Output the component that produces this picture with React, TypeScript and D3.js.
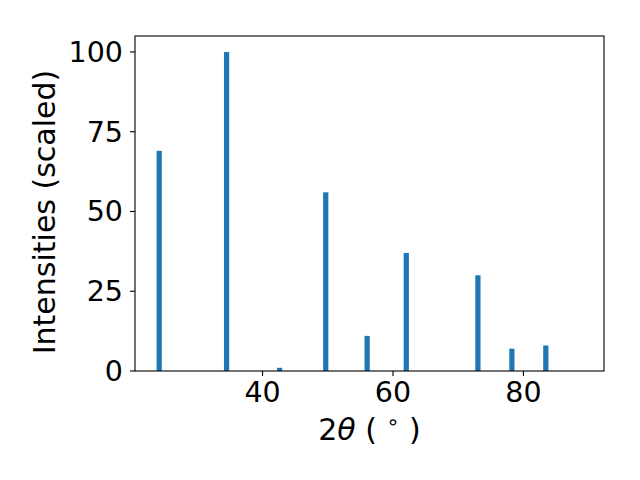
import React from "react";
import * as d3 from "d3";

const positions = [24.16, 34.49, 42.62, 49.69, 56.04, 62.04, 73.02, 78.23, 83.43];
const intensities = [69, 100, 1, 56, 11, 37, 30, 7, 8];
const xTicks = [40, 60, 80];
const yTicks = [0, 25, 50, 75, 100];
const barWidth = 0.8;

const W = 640;
const H = 480;
const M = { left: 135, right: 604, top: 36, bottom: 371 };
const FONT = "DejaVu Sans, sans-serif";
const TICK_FS = 28.5;
const LABEL_FS = 30;

export default function App() {
  const x = d3.scaleLinear().domain([20.45, 92.35]).range([M.left, M.right]);
  const y = d3.scaleLinear().domain([0, 105]).range([M.bottom, M.top]);
  return (
    <svg width={W} height={H} style={{ position: "absolute", left: 0, top: 0, background: "#fff" }}>
      <rect x={0} y={0} width={W} height={H} fill="#fff" />
      {positions.map((p, i) => (
        <rect
          key={i}
          x={x(p - barWidth / 2)}
          y={y(intensities[i])}
          width={x(p + barWidth / 2) - x(p - barWidth / 2)}
          height={y(0) - y(intensities[i])}
          fill="#1f77b4"
        />
      ))}
      <rect
        x={M.left}
        y={M.top}
        width={M.right - M.left}
        height={M.bottom - M.top}
        fill="none"
        stroke="#000"
        strokeWidth={1.1}
      />
      {xTicks.map((t) => (
        <g key={t}>
          <line x1={x(t)} x2={x(t)} y1={M.bottom} y2={M.bottom + 5} stroke="#000" strokeWidth={1.1} />
          <text x={x(t)} y={M.bottom + 31} textAnchor="middle" fontFamily={FONT} fontSize={TICK_FS} fill="#000">
            {t}
          </text>
        </g>
      ))}
      {yTicks.map((t) => (
        <g key={t}>
          <line x1={M.left - 5} x2={M.left} y1={y(t)} y2={y(t)} stroke="#000" strokeWidth={1.1} />
          <text x={M.left - 12} y={y(t) + 10} textAnchor="end" fontFamily={FONT} fontSize={TICK_FS} fill="#000">
            {t}
          </text>
        </g>
      ))}
      <text x={(M.left + M.right) / 2} y={440} textAnchor="middle" fontFamily={FONT} fontSize={LABEL_FS} fill="#000">
        <tspan>2</tspan>
        <tspan fontStyle="italic">θ</tspan>
        <tspan> ( </tspan>
        <tspan fontSize={LABEL_FS * 0.7} dy={-11}>∘</tspan>
        <tspan dy={11}> )</tspan>
      </text>
      <text
        transform={`translate(55,212) rotate(-90)`}
        textAnchor="middle"
        fontFamily={FONT}
        fontSize={LABEL_FS}
        fill="#000"
      >
        Intensities (scaled)
      </text>
    </svg>
  );
}
